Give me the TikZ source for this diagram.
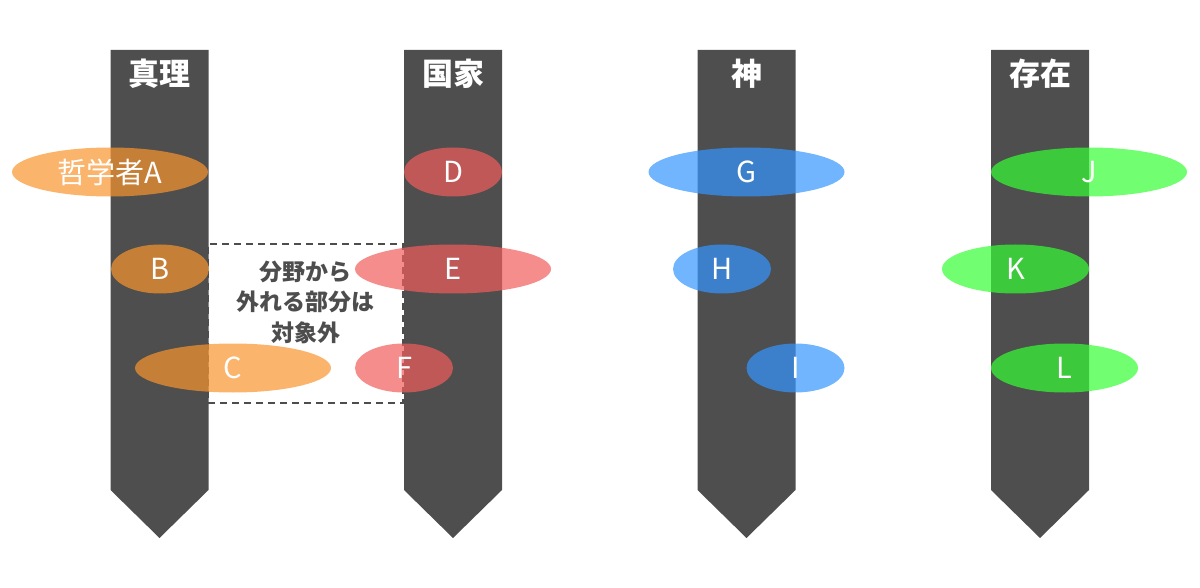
\documentclass[tikz,border=0pt]{standalone}
\usepackage{fontspec}
\setmainfont{Noto Sans CJK JP}
\usetikzlibrary{shapes.geometric}

\definecolor{barGray}{RGB}{78,78,78}
\definecolor{textGray}{RGB}{77,77,77}
\definecolor{blobOrange}{RGB}{249,148,45}
\definecolor{blobRed}{RGB}{241,93,93}
\definecolor{blobBlue}{RGB}{53,149,255}
\definecolor{blobGreen}{RGB}{53,255,53}

\begin{document}
\begin{tikzpicture}[
    x=1pt, y=-1pt,
    bar/.style={
        fill=barGray
    },
    title/.style={
        text=white,
        font=\fontsize{31}{34}\selectfont\bfseries
    },
    blob/.style={
        ellipse,
        inner sep=0pt,
        minimum height=49pt,
        fill opacity=0.7,
        text opacity=1,
        text=white,
        font=\fontsize{29}{32}\selectfont
    },
    wide/.style={minimum width=196pt},
    mid/.style={minimum width=147pt},
    narrow/.style={minimum width=98pt},
    scopebox/.style={
        draw=textGray,
        line width=1.6pt,
        dash pattern=on 7pt off 5pt,
        minimum width=195pt,
        minimum height=159pt
    },
    note/.style={
        align=center,
        text=textGray,
        font=\fontsize{23}{30.5}\selectfont\bfseries
    }
]
    \useasboundingbox (0,0) rectangle (1200,588);

    % Bars
    \foreach \cx in {159.5,453,746.5,1040} {
        \fill [bar] (\cx-49,50) -- (\cx+49,50) -- (\cx+49,490)
            -- (\cx,538) -- (\cx-49,490) -- cycle;
    }

    % Titles
    \node [title] (truth) at (159.5,74) {真理};
    \node [title] (state) at (453,74) {国家};
    \node [title] (god) at (746.5,74) {神};
    \node [title] (being) at (1040,74) {存在};

    % Out of scope
    \node [scopebox] (scope) at (305.5,323.5) {};
    \node [note] (scopetext) at (305.5,302) {分野から\\外れる部分は\\対象外};

    % Philosophers
    \node [blob, wide, fill=blobOrange] (a) at (110,172) {哲学者A};
    \node [blob, narrow, fill=blobOrange] (b) at (160,269) {B};
    \node [blob, wide, fill=blobOrange] (c) at (233,368) {C};

    \node [blob, narrow, fill=blobRed] (d) at (453,172) {D};
    \node [blob, wide, fill=blobRed] (e) at (453,269) {E};
    \node [blob, narrow, fill=blobRed] (f) at (404,368) {F};

    \node [blob, wide, fill=blobBlue] (g) at (746.5,172) {G};
    \node [blob, narrow, fill=blobBlue] (h) at (722,269) {H};
    \node [blob, narrow, fill=blobBlue] (i) at (795.5,368) {I};

    \node [blob, wide, fill=blobGreen] (j) at (1089,172) {J};
    \node [blob, mid, fill=blobGreen] (k) at (1015.5,269) {K};
    \node [blob, mid, fill=blobGreen] (l) at (1064.5,368) {L};

\end{tikzpicture}
\end{document}
